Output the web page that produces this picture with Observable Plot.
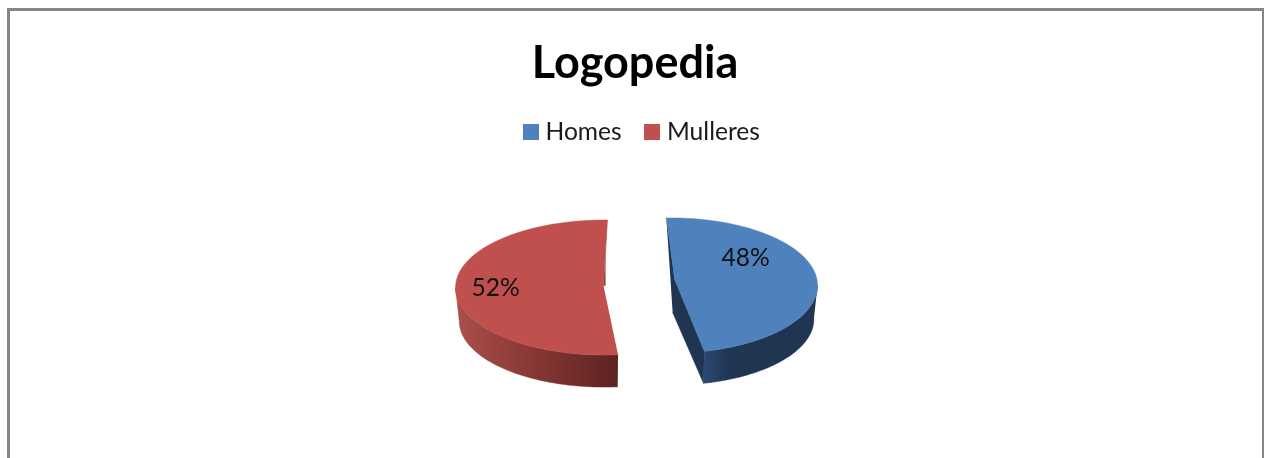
<!DOCTYPE html>
<html>
<head>
<meta charset="utf-8">
<script src="https://cdn.jsdelivr.net/npm/d3@7"></script>
<script src="https://cdn.jsdelivr.net/npm/@observablehq/plot@0.6"></script>
<style>
  html, body { margin: 0; padding: 0; background: #fff; overflow: hidden; width: 1264px; height: 458px; }
  #frame { position: absolute; left: 7px; top: 8px; width: 1252px; height: 460px; border: solid #868686; border-width: 3px 2px 0 3px; }
  #title { position: absolute; left: 0; width: 1264px; top: 33px; text-align: center; padding-left: 6px; box-sizing: border-box;
           font: 700 45px/56px Lato, "Open Sans", sans-serif; color: #000; filter: blur(0.5px); }
  #legend { position: absolute; left: 0; top: 115px; height: 32px; font: 400 24.6px/32px Lato, "Open Sans", sans-serif; color: #1a1a1a; filter: blur(0.4px); }
  #legend span { position: absolute; white-space: nowrap; top: 0; }
  #legend i { position: absolute; top: 9px; width: 16px; height: 16px; }
  #chart { position: absolute; left: 0; top: 190px; filter: blur(0.4px); }
  #chart svg { display: block; background: transparent; }
</style>
</head>
<body>
<div id="frame"></div>
<div id="title"></div>
<div id="legend"></div>
<div id="chart"></div>
<script>
// --- data ---
const titleText = "Logopedia";
const categories = ["Homes", "Mulleres"];
const shares = [48, 52];
const faceColors = ["#4f81bd", "#c0504d"];
const labelX = [0.73, -0.966];
const labelY = [0.415, -0.03];

// --- appearance of the tilted, exploded pie, in pie-radius units ---
const views = [
  {dx: 0.227, dy: 0.015, rx: 0.99, ry: 1.0, rot: -2, squeeze: 0.978, apexX: 0.02, apexY: 0.10},
  {dx: -0.227, dy: -0.015, rx: 1.01, ry: 1.0, rot: 2, squeeze: 0.995, apexX: -0.007, apexY: 0.03}
];
const depth = 0.5, floorScale = 0.975;

const rad = d => d * Math.PI / 180;
const face = (v, a) => ({x: v.dx + v.rx * Math.sin(rad(a)), y: v.dy + v.ry * Math.cos(rad(a))});
const floor = (v, a) => ({x: v.dx + floorScale * v.rx * Math.sin(rad(a)), y: v.dy + floorScale * v.ry * Math.cos(rad(a)) - depth});
const sweep = (a0, a1) => d3.range(0, 61).map(i => a0 + (a1 - a0) * i / 60);

let cum = 0;
const slices = shares.map((s, i) => {
  const v = views[i];
  const a0 = cum * 3.6 + v.rot;
  const a1 = a0 + s * 3.6 * v.squeeze;
  cum += s;
  const apex = {x: v.dx + v.apexX, y: v.dy + v.apexY};
  return {v, a0, a1, apex, top: [...sweep(a0, a1).map(a => face(v, a)), apex]};
});

const [blue, red] = slices;
// outer wall of each slice: only the part facing the viewer
const wall = (s, from, to) => [...sweep(from, to).map(a => face(s.v, a)), ...sweep(from, to).reverse().map(a => floor(s.v, a))];
const blueWall = wall(blue, 90, blue.a1);
const redWall = wall(red, red.a0, 270);
// inner cut wall of the blue slice and the thin sliver on the red one
const blueInner = [face(blue.v, blue.a0), blue.apex, face(blue.v, blue.a1), floor(blue.v, blue.a1),
                   {x: blue.apex.x - 0.012, y: blue.apex.y - depth}];
const redInner = [face(red.v, red.a1),
                  {x: red.apex.x + 0.012, y: red.apex.y + 0.45},
                  {x: red.apex.x + 0.012, y: red.apex.y},
                  red.apex];

const gradients = () => {
  const defs = d3.create("svg:defs");
  const add = (id, stops) => {
    const g = defs.append("linearGradient").attr("id", id).attr("x1", 0).attr("x2", 1).attr("y1", 0).attr("y2", 0);
    stops.forEach(([o, c]) => g.append("stop").attr("offset", o).attr("stop-color", c));
  };
  add("redSide", [[0, "#ab4f4c"], [0.5, "#853633"], [1, "#5c2321"]]);
  add("blueSide", [[0, "#2a4a72"], [0.22, "#1f3552"], [1, "#1f3552"]]);
  return defs.node();
};

const poly = (pts, fill) => Plot.line(pts, {x: "x", y: "y", fill, stroke: fill, strokeWidth: 0.5, curve: "linear"});

const chart = Plot.plot({
  width: 1264,
  height: 268,
  margin: 0,
  x: {domain: [-1, 1], range: [490, 785], axis: null},
  y: {domain: [-1, 1], range: [163.5, 28.5], axis: null},
  marks: [
    gradients,
    poly(blueInner, "#1f3552"),
    poly(blueWall, "url(#blueSide)"),
    poly(redWall, "url(#redSide)"),
    poly(redInner, "#8a3a37"),
    poly(blue.top, faceColors[0]),
    poly(red.top, faceColors[1]),
    Plot.text(shares.map((s, i) => ({label: s + "%", x: labelX[i], y: labelY[i]})), {
      x: "x", y: "y", text: "label", fontSize: 24.6, fontFamily: "Lato, 'Open Sans', sans-serif", fill: "#111"
    })
  ]
});
document.getElementById("chart").append(chart);

document.getElementById("title").textContent = titleText;
const legendSwatchX = [523, 643.5];
const legendTextX = [545.5, 667];
const legend = document.getElementById("legend");
categories.forEach((c, i) => {
  const sw = document.createElement("i");
  sw.style.left = legendSwatchX[i] + "px";
  sw.style.background = faceColors[i];
  legend.append(sw);
  const t = document.createElement("span");
  t.style.left = legendTextX[i] + "px";
  t.textContent = c;
  legend.append(t);
});
</script>
</body>
</html>
